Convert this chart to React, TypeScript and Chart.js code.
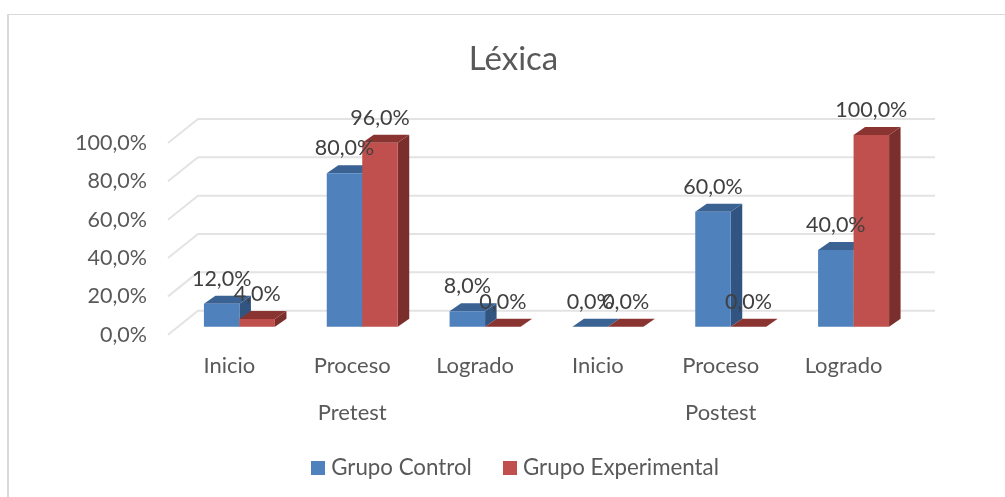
import React, { useEffect, useRef } from "react";
import { Chart, registerables } from "chart.js";

Chart.register(...registerables);

const tickLabels = [["Inicio"], ["Proceso", "Pretest"], ["Logrado"], ["Inicio"], ["Proceso", "Postest"], ["Logrado"]];
const grupoControl = [12, 80, 8, 0, 60, 40];
const grupoExperimental = [4, 96, 0, 0, 0, 100];

const fontFamily = "Lato, 'Noto Sans', sans-serif";
const sideColors = ["#325480", "#7a2f2d"];
const topColors = ["#3a6293", "#8a3432"];
const fmt = (v: number) => v.toFixed(1).replace(".", ",") + "%";

const SHIFT_X = 10;
const SHIFT_Y = -8;
const DEPTH_X = 11.5;
const DEPTH_Y = -8;
const WALL_X = 30;
const WALL_Y = -24;

function swatch(color: string) {
  const c = document.createElement("canvas");
  c.width = 14;
  c.height = 14;
  const g = c.getContext("2d")!;
  g.fillStyle = color;
  g.fillRect(0, 0, 14, 14);
  return c;
}

function drawFaces(chart: any, index: number) {
  const ctx = chart.ctx;
  const meta = chart.getDatasetMeta(index);
  meta.data.forEach((el: any) => {
    const l = el.x - el.width / 2;
    const r = el.x + el.width / 2;
    ctx.fillStyle = sideColors[index];
    ctx.beginPath();
    ctx.moveTo(r, el.y);
    ctx.lineTo(r + DEPTH_X, el.y + DEPTH_Y);
    ctx.lineTo(r + DEPTH_X, el.base + DEPTH_Y);
    ctx.lineTo(r, el.base);
    ctx.closePath();
    ctx.fill();
    ctx.fillStyle = topColors[index];
    ctx.beginPath();
    ctx.moveTo(l, el.y);
    ctx.lineTo(r, el.y);
    ctx.lineTo(r + DEPTH_X, el.y + DEPTH_Y);
    ctx.lineTo(l + DEPTH_X, el.y + DEPTH_Y);
    ctx.closePath();
    ctx.fill();
  });
}

const bars3d = {
  id: "bars3d",
  afterLayout(chart: any) {
    chart.scales.x.bottom += 20;
    chart.legend.left += 4;
    chart.legend.right += 4;
  },
  beforeDatasetsDraw(chart: any) {
    const { ctx, chartArea, scales } = chart;
    ctx.save();
    ctx.strokeStyle = "#e3e3e3";
    ctx.lineWidth = 2;
    scales.y.ticks.forEach((t: any) => {
      const y = scales.y.getPixelForValue(t.value);
      ctx.beginPath();
      ctx.moveTo(chartArea.left, y);
      ctx.lineTo(chartArea.left + WALL_X, y + WALL_Y);
      ctx.lineTo(chartArea.right + WALL_X, y + WALL_Y);
      ctx.stroke();
    });
    ctx.restore();
    ctx.save();
    ctx.translate(SHIFT_X, SHIFT_Y);
  },
  beforeDatasetDraw(chart: any, args: any) {
    if (args.index === 1) return false;
    drawFaces(chart, 0);
  },
  afterDatasetDraw(chart: any, args: any) {
    if (args.index !== 0) return;
    drawFaces(chart, 1);
    chart.getDatasetMeta(1).controller.draw();
  },
  afterDatasetsDraw(chart: any) {
    const ctx = chart.ctx;
    ctx.restore();
    ctx.save();
    ctx.font = `21.5px ${fontFamily}`;
    ctx.fillStyle = "#404040";
    ctx.textAlign = "center";
    ctx.textBaseline = "middle";
    chart.data.datasets.forEach((ds: any, i: number) => {
      chart.getDatasetMeta(i).data.forEach((el: any, j: number) => {
        ctx.fillText(fmt(ds.data[j]), el.x + SHIFT_X, el.y + SHIFT_Y - 25);
      });
    });
    ctx.restore();
  },
};

export default function App() {
  const ref = useRef<HTMLCanvasElement>(null);
  useEffect(() => {
    const chart = new Chart(ref.current!, {
      type: "bar",
      data: {
        labels: tickLabels,
        datasets: [
          { label: "Grupo Control", data: grupoControl, backgroundColor: "#4f81bd", borderWidth: 0, clip: false as any, categoryPercentage: 0.578, barPercentage: 1 },
          { label: "Grupo Experimental", data: grupoExperimental, backgroundColor: "#c0504d", borderWidth: 0, clip: false as any, categoryPercentage: 0.578, barPercentage: 1 },
        ],
      },
      options: {
        responsive: false,
        animation: false,
        events: [],
        layout: { padding: 0 },
        plugins: {
          tooltip: { enabled: false },
          title: {
            display: true,
            text: "Léxica",
            color: "#595959",
            font: { family: fontFamily, size: 33, weight: "normal", lineHeight: 1.2 },
            padding: { top: 40, bottom: 63.4 },
          },
          legend: {
            display: true,
            position: "bottom",
            labels: {
              color: "#595959",
              font: { family: fontFamily, size: 22.3 },
              usePointStyle: true,
              pointStyleWidth: 4,
              boxHeight: 14,
              padding: 36,
              generateLabels(chart: any) {
                const items = (Chart.defaults as any).plugins.legend.labels.generateLabels(chart);
                items.forEach((it: any) => { it.pointStyle = swatch(it.fillStyle); });
                return items;
              },
            },
          },
        },
        scales: {
          x: {
            grid: { display: false },
            border: { display: false },
            afterFit(s: any) { s.height = 86; },
            ticks: {
              color: "#595959",
              maxRotation: 0,
              autoSkip: false,
              padding: -1,
              font: { family: fontFamily, size: 22, lineHeight: 2.16 },
            },
          },
          y: {
            min: 0,
            max: 100,
            grid: { display: false },
            border: { display: false },
            afterFit(s: any) { s.width = 146; },
            ticks: {
              stepSize: 20,
              color: "#595959",
              padding: 13,
              font: { family: fontFamily, size: 21.5 },
              callback: (v: any) => fmt(Number(v)),
            },
          },
          yRight: {
            position: "right",
            min: 0,
            max: 100,
            grid: { display: false },
            border: { display: false },
            ticks: { display: false },
            afterFit(s: any) { s.width = 100; },
          },
        },
      },
      plugins: [bars3d],
    } as any);
    return () => chart.destroy();
  }, []);
  return (
    <div style={{ position: "fixed", left: 0, top: 0, width: 1005, height: 497, overflow: "hidden", background: "#fff" }}>
      <div style={{ position: "absolute", left: 7, top: 14, width: 1100, height: 600, borderLeft: "2px solid #d9d9d9", borderTop: "1px solid #d9d9d9" }} />
      <canvas ref={ref} width={983} height={489} style={{ position: "absolute", left: 22, top: 0, width: 983, height: 489, filter: "blur(0.5px)" }} />
    </div>
  );
}
